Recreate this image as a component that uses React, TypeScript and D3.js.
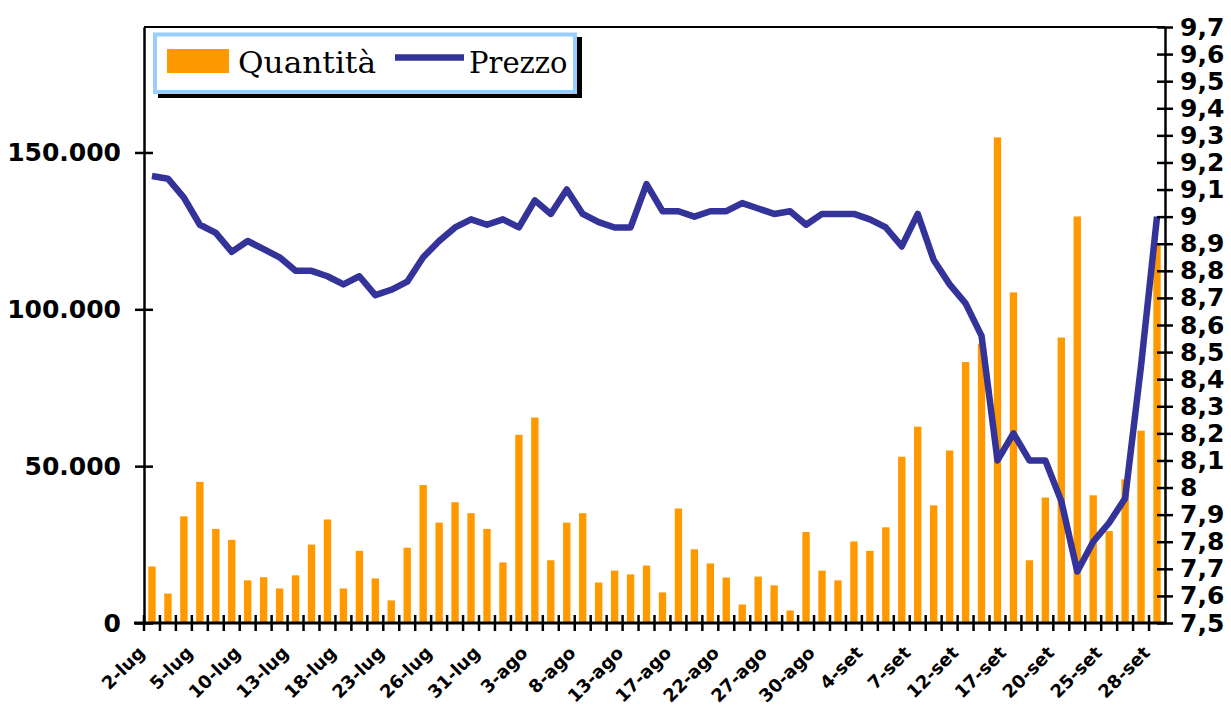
import * as d3 from "d3";
import { useRef, useEffect } from "react";

const categories = [
  "2-lug", "3-lug", "4-lug", "5-lug", "6-lug", "9-lug", "10-lug", "11-lug", "12-lug", "13-lug",
  "16-lug", "17-lug", "18-lug", "19-lug", "20-lug", "23-lug", "24-lug", "25-lug", "26-lug", "27-lug",
  "30-lug", "31-lug", "1-ago", "2-ago", "3-ago", "6-ago", "7-ago", "8-ago", "9-ago", "10-ago",
  "13-ago", "14-ago", "16-ago", "17-ago", "20-ago", "21-ago", "22-ago", "23-ago", "24-ago", "27-ago",
  "28-ago", "29-ago", "30-ago", "31-ago", "3-set", "4-set", "5-set", "6-set", "7-set", "10-set",
  "11-set", "12-set", "13-set", "14-set", "17-set", "18-set", "19-set", "20-set", "21-set", "24-set",
  "25-set", "26-set", "27-set", "28-set"
];

const quantita = [
  18000, 9400, 34000, 45000, 30000, 26500, 13600, 14600, 11000, 15200,
  25000, 33000, 11000, 23000, 14200, 7200, 24000, 44000, 32000, 38500,
  35000, 30000, 19300, 60000, 65500, 20000, 32000, 35000, 12900, 16700,
  15500, 18300, 9750, 36500, 23500, 19000, 14500, 5900, 14800, 12000,
  4000, 29000, 16700, 13600, 26000, 23000, 30500, 53000, 62600, 37500,
  55000, 83200, 89000, 154800, 105400, 20000, 40000, 91000, 129600, 40700,
  29300, 45800, 61300, 120600
];

const prezzo = [
  9.15, 9.14, 9.07, 8.97, 8.94, 8.87, 8.91, 8.88, 8.85, 8.8,
  8.8, 8.78, 8.75, 8.78, 8.71, 8.73, 8.76, 8.85, 8.91, 8.96,
  8.99, 8.97, 8.99, 8.96, 9.06, 9.01, 9.1, 9.01, 8.98, 8.96,
  8.96, 9.12, 9.02, 9.02, 9.0, 9.02, 9.02, 9.05, 9.03, 9.01,
  9.02, 8.97, 9.01, 9.01, 9.01, 8.99, 8.96, 8.89, 9.01, 8.84,
  8.75, 8.68, 8.56, 8.1, 8.2, 8.1, 8.1, 7.95, 7.69, 7.8,
  7.87, 7.96, 8.45, 9.0
];

const leftTicks = [0, 50000, 100000, 150000];
const rightTicks = d3.range(75, 98).map(d => d / 10);

export default function App() {
  const svgRef = useRef(null);
  const width = 1231;
  const height = 709;
  const left = 144, right = 1165, top = 27, bottom = 623;

  useEffect(() => {
    const svg = d3.select(svgRef.current);
    svg.selectAll("*").remove();

    const x = d3.scaleBand().domain(categories).range([left, right]).padding(0);
    const yL = d3.scaleLinear().domain([0, 190000]).range([bottom, top]);
    const yR = d3.scaleLinear().domain([7.5, 9.7]).range([bottom, top]);
    const bw = x.bandwidth() * 0.46;

    // barre quantità
    svg.append("g")
      .selectAll("rect")
      .data(quantita)
      .join("rect")
      .attr("x", (d, i) => x(categories[i]) + x.bandwidth() / 2 - bw / 2)
      .attr("y", d => yL(d))
      .attr("width", bw)
      .attr("height", d => yL(0) - yL(d))
      .attr("fill", "#FF9900");

    // linea prezzo
    const line = d3.line()
      .x((d, i) => x(categories[i]) + x.bandwidth() / 2)
      .y(d => yR(d));

    svg.append("path")
      .datum(prezzo)
      .attr("fill", "none")
      .attr("stroke", "#333399")
      .attr("stroke-width", 6.5)
      .attr("stroke-linejoin", "round")
      .attr("d", line);

    // cornice superiore
    svg.append("line")
      .attr("x1", left).attr("x2", right)
      .attr("y1", top).attr("y2", top)
      .attr("stroke", "black").attr("stroke-width", 2);

    const fmtL = d => d3.format(",")(d).replace(/,/g, ".");
    const fmtR = d => String(d).replace(".", ",");

    // asse sinistro
    const gL = svg.append("g")
      .attr("transform", `translate(${left},0)`)
      .call(d3.axisLeft(yL).tickValues(leftTicks).tickFormat(fmtL).tickSizeInner(9).tickSizeOuter(0).tickPadding(14));
    gL.select(".domain").attr("stroke-width", 2.5);
    gL.selectAll(".tick line").attr("x2", 9).attr("x1", -9).attr("stroke-width", 2.5);
    gL.selectAll("text")
      .style("font-family", "'DejaVu Sans', Verdana, sans-serif")
      .style("font-weight", "bold")
      .style("font-size", "25px")
      .attr("fill", "black");

    // asse destro
    const gR = svg.append("g")
      .attr("transform", `translate(${right},0)`)
      .call(d3.axisRight(yR).tickValues(rightTicks).tickFormat(fmtR).tickSizeInner(8).tickSizeOuter(0).tickPadding(7));
    gR.select(".domain").attr("stroke-width", 2.5);
    gR.selectAll(".tick line").attr("x1", -8).attr("x2", 8).attr("stroke-width", 2.5);
    gR.selectAll("text")
      .style("font-family", "'DejaVu Sans', Verdana, sans-serif")
      .style("font-weight", "bold")
      .style("font-size", "25px")
      .attr("fill", "black");

    // asse inferiore
    const gB = svg.append("g").attr("transform", `translate(0,${bottom})`);
    gB.append("line")
      .attr("x1", left - 10).attr("x2", right)
      .attr("stroke", "black").attr("stroke-width", 3);
    gB.selectAll("line.tk")
      .data(categories)
      .join("line")
      .attr("class", "tk")
      .attr("x1", d => x(d)).attr("x2", d => x(d))
      .attr("y1", -8).attr("y2", 8)
      .attr("stroke", "black").attr("stroke-width", 2.5);
    gB.selectAll("text")
      .data(categories.filter((d, i) => i % 3 === 0))
      .join("text")
      .attr("transform", d => `translate(${x(d) + x.bandwidth() / 2 - 6},${31}) rotate(-45)`)
      .attr("text-anchor", "end")
      .style("font-family", "'DejaVu Sans', Verdana, sans-serif")
      .style("font-weight", "bold")
      .style("font-size", "18px")
      .text(d => d);

    // legenda
    const lg = svg.append("g");
    lg.append("rect")
      .attr("x", 158).attr("y", 37).attr("width", 424).attr("height", 61)
      .attr("fill", "black");
    lg.append("rect")
      .attr("x", 155).attr("y", 34.5).attr("width", 420).attr("height", 57.5)
      .attr("fill", "white").attr("stroke", "#99CCFF").attr("stroke-width", 4);
    lg.append("rect")
      .attr("x", 167).attr("y", 49).attr("width", 62).attr("height", 24)
      .attr("fill", "#FF9900");
    lg.append("text")
      .attr("x", 238).attr("y", 73)
      .attr("textLength", 138)
      .attr("lengthAdjust", "spacingAndGlyphs")
      .style("font-family", "'DejaVu Serif', serif")
      .style("font-size", "29px")
      .text("Quantità");
    lg.append("line")
      .attr("x1", 395).attr("x2", 464).attr("y1", 57.5).attr("y2", 57.5)
      .attr("stroke", "#333399").attr("stroke-width", 6.5);
    lg.append("text")
      .attr("x", 469).attr("y", 73)
      .style("font-family", "'DejaVu Serif', serif")
      .style("font-size", "29px")
      .text("Prezzo");
  }, []);

  return (
    <div style={{ position: "absolute", left: 0, top: 0 }}>
      <svg ref={svgRef} width={width} height={height} style={{ display: "block", background: "white" }}></svg>
    </div>
  );
}
